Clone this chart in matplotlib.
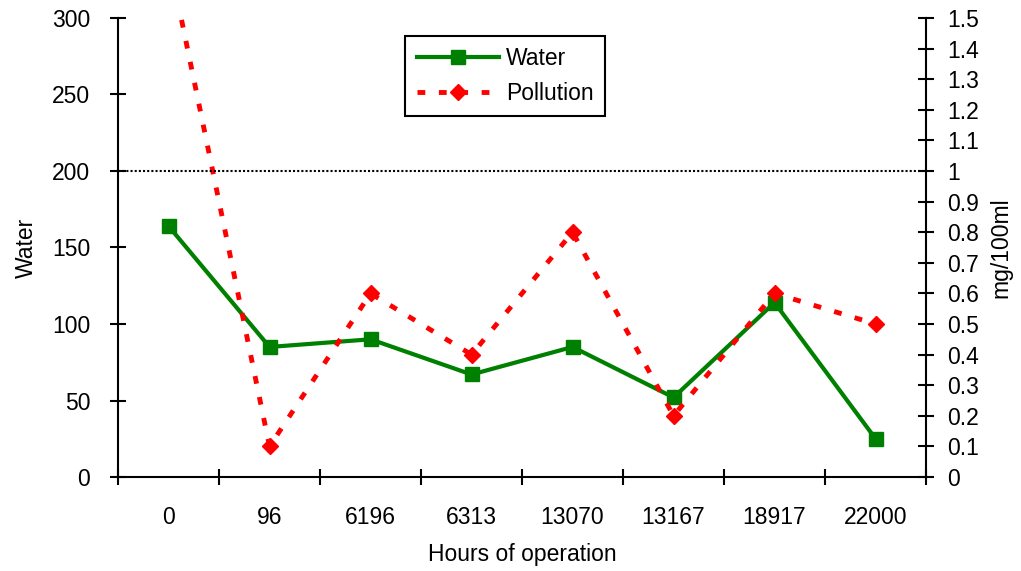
import matplotlib
matplotlib.use('Agg')
from matplotlib import pyplot as plt

plt.rcParams['font.family'] = ['Liberation Sans', 'DejaVu Sans']

hours = ['0', '96', '6196', '6313', '13070', '13167', '18917', '22000']
water = [164, 85, 90, 67, 85, 52, 114, 25]
pollution = [1.7, 0.1, 0.6, 0.4, 0.8, 0.2, 0.6, 0.5]
limit = 1.0

fs = 16.5

fig = plt.figure(figsize=(10.21, 5.71), dpi=100)
ax1 = fig.add_axes([0.1156, 0.1646, 0.7914, 0.8039])
ax2 = ax1.twinx()

x = list(range(len(hours)))

l1, = ax1.plot(x, water, color='#008000', lw=3, marker='s', markersize=10,
               label='Water', zorder=3)
l2, = ax2.plot(x, pollution, color='#ff0000', lw=3.5, linestyle=(0, (1.6, 2.8)),
               marker='D', markersize=8, label='Pollution', zorder=2)
ax2.axhline(limit, color='black', lw=1.5, linestyle=(0, (1, 1)))

ax1.set_xlim(-0.5, len(hours) - 0.5)
ax1.set_ylim(0, 300)
ax2.set_ylim(0, 1.5)
ax1.set_yticks(range(0, 301, 50))
ax2.set_yticks([i / 10 for i in range(16)])
ax2.set_yticklabels([f'{i/10:g}' for i in range(16)])

# category labels at centres, tick marks at the boundaries
ax1.set_xticks(x)
ax1.set_xticklabels(hours)
ax1.set_xticks([i - 0.5 for i in range(len(hours) + 1)], minor=True)
ax1.tick_params(axis='x', which='major', length=0, pad=21, labelsize=fs)
ax1.tick_params(axis='x', which='minor', direction='inout', length=12, width=1.5)
ax1.tick_params(axis='y', direction='inout', length=12, width=1.5, pad=14, labelsize=fs)
ax2.tick_params(axis='y', direction='inout', length=12, width=1.5, pad=9, labelsize=fs)

for ax in (ax1, ax2):
    ax.spines['top'].set_visible(False)
    for s in ('left', 'right', 'bottom'):
        ax.spines[s].set_linewidth(1.5)
ax1.spines['right'].set_visible(False)
ax2.spines['left'].set_visible(False)
ax2.spines['bottom'].set_visible(False)

ax1.set_xlabel('Hours of operation', fontsize=fs, labelpad=10)
ax1.set_ylabel('Water', fontsize=fs, labelpad=10)
ax2.set_ylabel('mg/100ml', fontsize=fs, labelpad=8)

leg = ax1.legend(handles=[l1, l2], loc='upper left', bbox_to_anchor=(0.397, 0.937),
                 bbox_transform=fig.transFigure, borderaxespad=0, fontsize=fs,
                 fancybox=False, edgecolor='black', framealpha=1,
                 handlelength=3.6, handletextpad=0.3, labelspacing=0.5,
                 borderpad=0.5)
leg.get_frame().set_linewidth(1.5)

fig.savefig('out.png', dpi=100)
